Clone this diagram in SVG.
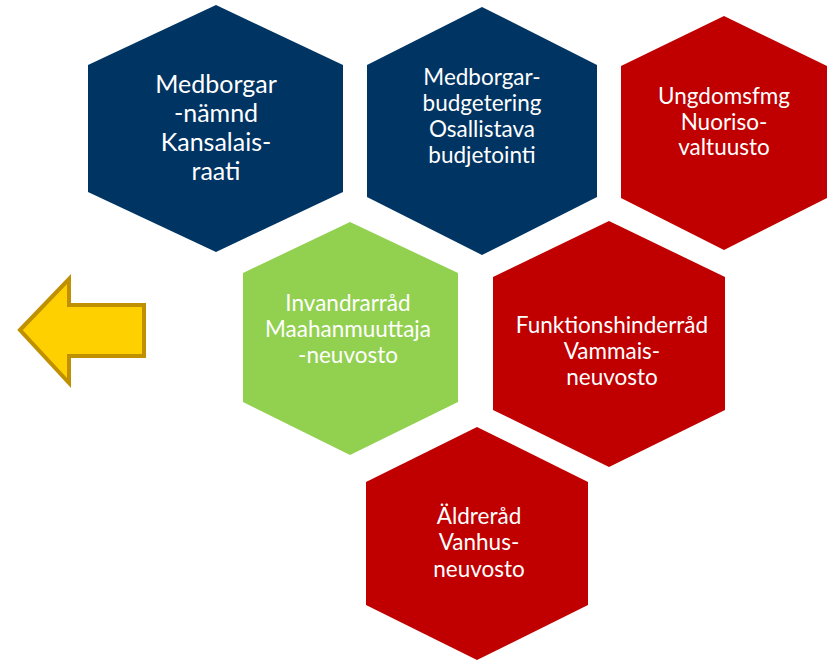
<svg xmlns="http://www.w3.org/2000/svg" width="828" height="662" viewBox="0 0 828 662">
<style>
.navy{fill:#003462}
.red{fill:#C00000}
.green{fill:#92D050}
text{font-family:Lato,"Liberation Sans",sans-serif;font-size:22.5px;fill:#FFFFFF;text-anchor:middle}
.big{font-size:25px}
</style>
<rect width="828" height="662" fill="#FFFFFF"/>
<g id="hex-medborgarnamnd">
<polygon class="navy" points="216,5 343,65 343,192 216,252 88,192 88,65"/>
<text class="big" x="216" y="93">Medborgar</text>
<text class="big" x="216" y="122">-nämnd</text>
<text class="big" x="216" y="151">Kansalais-</text>
<text class="big" x="216" y="180">raati</text>
</g>
<g id="hex-medborgarbudgetering">
<polygon class="navy" points="482,7 597,65 597,197 482,255 367,197 367,65"/>
<text x="482" y="85">Medborgar-</text>
<text x="482" y="111">budgetering</text>
<text x="482" y="137">Osallistava</text>
<text x="482" y="163">budjetointi</text>
</g>
<g id="hex-ungdomsfmg">
<polygon class="red" points="724,16 827,66 827,198 724,250 621,198 621,66"/>
<text x="724" y="104">Ungdomsfmg</text>
<text x="724" y="130">Nuoriso-</text>
<text x="724" y="155">valtuusto</text>
</g>
<g id="hex-invandrarrad">
<polygon class="green" points="350,222 458,273 458,402 350,455 243,402 243,273"/>
<text x="348" y="311">Invandrarråd</text>
<text x="348" y="337">Maahanmuuttaja</text>
<text x="348" y="363">-neuvosto</text>
</g>
<g id="hex-funktionshinderrad">
<polygon class="red" points="609,221 725,277 725,410 609,467 493,410 493,277"/>
<text x="612" y="333">Funktionshinderråd</text>
<text x="612" y="359">Vammais-</text>
<text x="612" y="385">neuvosto</text>
</g>
<g id="hex-aldrerad">
<polygon class="red" points="477,427 588,482 588,605 477,660 366,605 366,482"/>
<text x="479" y="524">Äldreråd</text>
<text x="479" y="550">Vanhus-</text>
<text x="479" y="577">neuvosto</text>
</g>
<g id="connectors">
<polygon id="arrow-left" points="20,330 69,279 69,305 144,305 144,356 69,356 69,383" fill="#FFD000" stroke="#BF9000" stroke-width="4" stroke-linejoin="miter"/>
</g>
</svg>
